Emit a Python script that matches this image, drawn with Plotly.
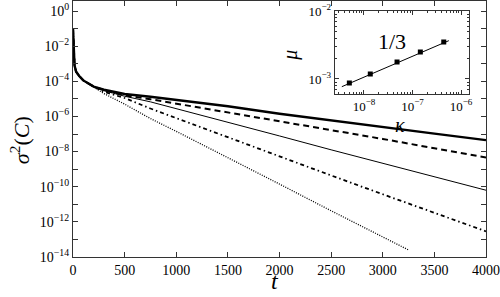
import plotly.graph_objects as go
import numpy as np

# ---- main panel data (time t, log10 of sigma^2(C)) ----
t_vals = [0, 3, 8, 15, 30, 60, 100, 150, 200, 300, 500, 750, 1000, 1500, 2000, 2500, 3000, 3500, 4000]
early = [-1.0, -1.8, -2.6, -3.1, -3.45, -3.7, -3.95, -4.15, -4.3]
log_thick = early + [-4.48, -4.72, -4.88, -5.07, -5.42, -5.85, -6.24, -6.60, -6.98, -7.35]
log_dashed = early + [-4.50, -4.80, -5.02, -5.27, -5.75, -6.25, -6.75, -7.28, -7.81, -8.34]
log_thin = early + [-4.53, -4.85, -5.17, -5.55, -6.33, -7.11, -7.90, -8.67, -9.44, -10.20]
log_dashdot = early + [-4.60, -4.95, -5.55, -6.10, -7.20, -8.28, -9.36, -10.43, -11.50, -12.54]
t_dot = [0, 3, 8, 15, 30, 60, 100, 150, 200, 300, 500, 750, 1000, 1500, 2000, 2500, 3000, 3256]
log_dot = early + [-4.70, -5.30, -6.12, -6.85, -8.33, -9.85, -11.37, -12.85, -13.62]

# ---- inset data ----
kappa = [5.0e-9, 1.35e-8, 4.8e-8, 1.45e-7, 4.4e-7]
mu = [8.7e-4, 1.18e-3, 1.78e-3, 2.5e-3, 3.5e-3]
fit_kappa = [3.5e-9, 5.6e-7]
fit_mu = [7.7e-4, 3.66e-3]

FONT = "Liberation Serif"
fig = go.Figure()

def add(tv, lv, width, dash):
    fig.add_trace(go.Scatter(x=tv, y=list(10 ** np.array(lv)), mode="lines",
                             line=dict(color="black", width=width, dash=dash),
                             showlegend=False, xaxis="x", yaxis="y"))

add(t_vals, log_thin, 1.0, "solid")
add(t_dot, log_dot, 1.3, "1px,1.4px")
add(t_vals, log_dashdot, 1.8, "4px,3px,1.5px,3px")
add(t_vals, log_dashed, 2.0, "6px,4px")
add(t_vals, log_thick, 2.4, "solid")

fig.add_trace(go.Scatter(x=fit_kappa, y=fit_mu, mode="lines", line=dict(color="black", width=1),
                         showlegend=False, xaxis="x2", yaxis="y2"))
fig.add_trace(go.Scatter(x=kappa, y=mu, mode="markers",
                         marker=dict(symbol="square", size=5, color="black"),
                         showlegend=False, xaxis="x2", yaxis="y2"))

def sup(e):
    return "10<sup>" + (str(e).replace("-", "−")) + "</sup>"

y_ticks = [10.0 ** e for e in range(0, -15, -1)]
y_text = [sup(e) if e % 2 == 0 else "" for e in range(0, -15, -1)]
x_ticks = [0, 500, 1000, 1500, 2000, 2500, 3000, 3500, 4000]

axis_common = dict(showline=True, linecolor="#333", linewidth=1.3, mirror="ticks",
                   ticks="inside", tickcolor="#333", showgrid=False, zeroline=False,
                   automargin=False)

fig.update_layout(
    template="none",
    width=500, height=297,
    margin=dict(l=73, r=14, t=1, b=40),
    plot_bgcolor="white", paper_bgcolor="white",
    font=dict(family=FONT, color="black", size=14),
    xaxis=dict(range=[0, 4000], tickvals=x_ticks, ticklen=5, domain=[0, 1], **axis_common),
    yaxis=dict(type="log", range=[-14, 0.57], tickvals=y_ticks, ticktext=y_text, ticklen=5,
               domain=[0, 1], **axis_common),
    xaxis2=dict(type="log", range=[-8.6, -5.835], domain=[0.634, 0.959], anchor="y2",
                tickvals=[1e-8, 1e-7, 1e-6], ticktext=[sup(-8), sup(-7), sup(-6)], ticklen=4,
                minor=dict(ticks="inside", ticklen=2, tickcolor="#333", dtick="D1"),
                tickfont=dict(size=13), **axis_common),
    yaxis2=dict(type="log", range=[-3.22, -2.0], domain=[0.637, 0.961], anchor="x2",
                tickvals=[1e-3, 1e-2], ticktext=[sup(-3), sup(-2)], ticklen=4,
                minor=dict(ticks="inside", ticklen=2, tickcolor="#333", dtick="D1"),
                tickfont=dict(size=13), **axis_common),
)

def label(text, x, y, size, angle=0, yanchor="middle"):
    fig.add_annotation(text=text, xref="paper", yref="paper", x=x, y=y,
                       xanchor="center", yanchor=yanchor, textangle=angle,
                       showarrow=False, font=dict(size=size))

label("<i>σ</i><sup>2</sup>(<i>C</i>)", -0.128, 0.457, 22, -90)
label("<i>t</i>", 0.489, -0.152, 24, yanchor="bottom")
label("1/3", 0.772, 0.84, 22)
label("<i>μ</i>", 0.525, 0.789, 20, -90)
label("<i>κ</i>", 0.792, 0.516, 20)

fig.write_html("out.html", config={"displayModeBar": False},
               post_script="document.body.style.margin='0';document.body.style.padding='0';")
